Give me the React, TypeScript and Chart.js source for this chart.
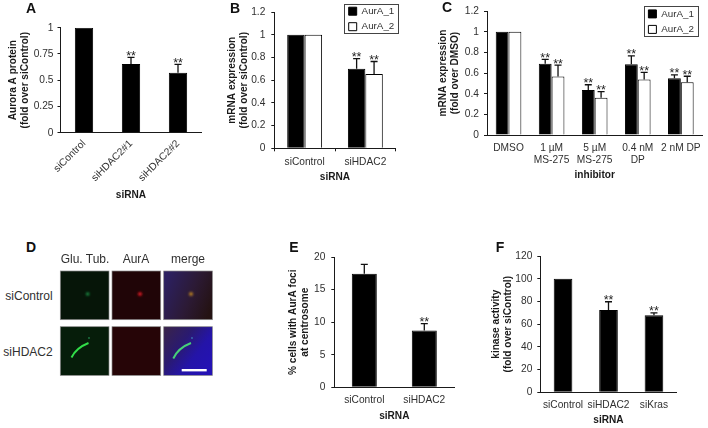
import React, { useEffect, useRef } from "react";
import { Chart, registerables } from "chart.js";

Chart.register(...registerables);

const FONT = '"Liberation Sans", Arial, sans-serif';
const INK = "#303030";

// ---- data ----
const catsA = ["siControl", "siHDAC2#1", "siHDAC2#2"];
const valsA = [1, 0.654, 0.571];
const errA = [null, 0.717, 0.65];
const starsA = [false, true, true];

const catsB = ["siControl", "siHDAC2"];
const aur1B = [1, 0.7];
const aur2B = [1, 0.655];
const err1B = [null, 0.79];
const err2B = [null, 0.765];
const stars1B = [false, true];
const stars2B = [false, true];

const catsC = ["DMSO", ["1 µM", "MS-275"], ["5 µM", "MS-275"], ["0.4 nM", "DP"], "2 nM DP"];
const aur1C = [1, 0.69, 0.437, 0.686, 0.55];
const aur2C = [1, 0.566, 0.36, 0.538, 0.51];
const err1C = [null, 0.733, 0.487, 0.767, 0.582];
const err2C = [null, 0.676, 0.42, 0.607, 0.569];
const stars1C = [false, true, true, true, true];
const stars2C = [false, true, true, true, true];

const catsE = ["siControl", "siHDAC2"];
const valsE = [17.45, 8.73];
const errE = [18.9, 9.78];
const starsE = [false, true];

const catsF = ["siControl", "siHDAC2", "siKras"];
const valsF = [100, 72.5, 68];
const errF = [null, 79.8, 70];
const starsF = [false, true, true];

const seriesNames = ["AurA_1", "AurA_2"];

type Panel = {
  rect: number[]; // canvas left, top, right, bottom
  plot: number[]; // plot left, top, right, bottom
  titleX: number; // centre of first y title line
  titleY: number; // centre of x title
  yTitle: string[];
  xTitle: string;
  yMax: number;
  yStep: number;
  cats: any[];
  series: { name: string; vals: number[]; err: (number | null)[]; stars: boolean[]; white: boolean }[];
  pct: number;
  rotate?: boolean;
  xTicks?: boolean;
  yPad: number;
  xPad: number;
  legend?: { box: number[]; swatch: number[] };
};

const panels: Panel[] = [
  {
    rect: [0, 0, 225, 215], plot: [60.5, 27.7, 201.5, 132.7], titleX: 13.3, titleY: 195.7,
    yTitle: ["Aurora A protein", "(fold over siControl)"], xTitle: "siRNA", yMax: 1, yStep: 0.25,
    cats: catsA, series: [{ name: "Aurora A", vals: valsA, err: errA, stars: starsA, white: false }],
    pct: 0.39, rotate: true, yPad: 4, xPad: 5,
  },
  {
    rect: [225, 0, 405, 200], plot: [274.3, 7.7, 395.7, 148.3], titleX: 232.7, titleY: 177,
    yTitle: ["mRNA expression", "(fold over siControl)"], xTitle: "siRNA", yMax: 1.2, yStep: 0.2,
    cats: catsB,
    series: [
      { name: seriesNames[0], vals: aur1B, err: err1B, stars: stars1B, white: false },
      { name: seriesNames[1], vals: aur2B, err: err2B, stars: stars2B, white: true },
    ],
    pct: 0.575, xTicks: true, yPad: 6, xPad: 5,
    legend: { box: [344.3, 4, 398.3, 33.3], swatch: [348, 11] },
  },
  {
    rect: [432, 0, 708, 200], plot: [487, 7.7, 704.5, 135], titleX: 443, titleY: 175,
    yTitle: ["mRNA expression", "(fold over DMSO)"], xTitle: "inhibitor", yMax: 1.2, yStep: 0.2,
    cats: catsC,
    series: [
      { name: seriesNames[0], vals: aur1C, err: err1C, stars: stars1C, white: false },
      { name: seriesNames[1], vals: aur2C, err: err2C, stars: stars2C, white: true },
    ],
    pct: 0.595, yPad: 5, xPad: 7,
    legend: { box: [643.7, 5.7, 697.3, 36], swatch: [647.7, 13.7] },
  },
  {
    rect: [280, 245, 470, 428], plot: [334.3, 253, 454.3, 387.3], titleX: 293.3, titleY: 416,
    yTitle: ["% cells with AurA foci", "at centrosome"], xTitle: "siRNA", yMax: 20, yStep: 5,
    cats: catsE, series: [{ name: "foci", vals: valsE, err: errE, stars: starsE, white: false }],
    pct: 0.417, yPad: 6, xPad: 7,
  },
  {
    rect: [485, 245, 708, 428], plot: [540.3, 250, 676.7, 392.3], titleX: 496, titleY: 420,
    yTitle: ["kinase activity", "(fold over siControl)"], xTitle: "siRNA", yMax: 120, yStep: 20,
    cats: catsF, series: [{ name: "kinase", vals: valsF, err: errF, stars: starsF, white: false }],
    pct: 0.41, yPad: 5, xPad: 7,
  },
];

const TITLE_LH = 11.8;
const LEGEND_SIZE = 9.8;

const whiskerPlugin = {
  id: "whiskers",
  afterLayout(chart: any) {
    const p: Panel = chart.options.plugins.whiskers.panel;
    if (!p.legend) return;
    const lg = chart.legend;
    const [sx, sy] = p.legend.swatch;
    const left = sx - p.rect[0] - 5;
    const top = sy - p.rect[1] - LEGEND_SIZE / 2 - 5.5;
    lg.left = left;
    lg.top = top;
    lg.right = left + 60;
    lg.bottom = top + 60;
  },
  afterDatasetsDraw(chart: any) {
    const p: Panel = chart.options.plugins.whiskers.panel;
    const { ctx, scales } = chart;
    ctx.save();
    ctx.strokeStyle = "#111";
    ctx.lineWidth = 1.3;
    ctx.fillStyle = "#222";
    ctx.font = `12.5px ${FONT}`;
    ctx.textAlign = "center";
    ctx.textBaseline = "alphabetic";
    p.series.forEach((s, i) => {
      const meta = chart.getDatasetMeta(i);
      s.vals.forEach((v, j) => {
        const e = s.err[j];
        if (e == null) return;
        const x = meta.data[j].x;
        const y0 = scales.y.getPixelForValue(v);
        const y1 = scales.y.getPixelForValue(e);
        ctx.beginPath();
        ctx.moveTo(x, y0);
        ctx.lineTo(x, y1);
        ctx.moveTo(x - 3.5, y1);
        ctx.lineTo(x + 3.5, y1);
        ctx.stroke();
        if (s.stars[j]) ctx.fillText("**", x, y1 + 2.5);
      });
    });
    ctx.restore();
  },
  afterDraw(chart: any) {
    const p: Panel = chart.options.plugins.whiskers.panel;
    if (!p.legend) return;
    const [l, t, r, b] = p.legend.box;
    const { ctx } = chart;
    ctx.save();
    ctx.strokeStyle = "#444";
    ctx.lineWidth = 1;
    ctx.strokeRect(Math.round(l - p.rect[0]) + 0.5, Math.round(t - p.rect[1]) + 0.5, Math.round(r - l), Math.round(b - t));
    ctx.restore();
  },
};

function PanelChart({ p }: { p: Panel }) {
  const ref = useRef<HTMLCanvasElement>(null);
  useEffect(() => {
    const [rl, rt, rr, rb] = p.rect;
    const [pl, pt, pr, pb] = p.plot;
    const yW = pl - (p.titleX - TITLE_LH / 2);
    const xH = p.titleY + TITLE_LH / 2 - pb;
    const tickFont = { family: FONT, size: 10.2 };
    const titleFont = { family: FONT, size: 10.1, weight: "bold" as const, lineHeight: TITLE_LH / 10.1 };
    const chart = new Chart(ref.current as HTMLCanvasElement, {
      type: "bar",
      data: {
        labels: p.cats,
        datasets: p.series.map((s) => ({
          label: s.name,
          data: s.vals,
          backgroundColor: s.white ? "#ffffff" : "#000000",
          borderColor: "#000000",
          borderWidth: 1,
          categoryPercentage: p.pct,
          barPercentage: 1,
        })),
      },
      plugins: [whiskerPlugin],
      options: {
        animation: false,
        responsive: false,
        events: [],
        layout: {
          padding: { left: pl - rl - yW, top: pt - rt, right: rr - pr, bottom: rb - pb - xH },
        },
        plugins: {
          tooltip: { enabled: false },
          whiskers: { panel: p },
          legend: {
            display: !!p.legend,
            position: "chartArea",
            align: "start",
            labels: {
              boxWidth: 8,
              boxHeight: 8,
              padding: 5.7,
              color: INK,
              font: { family: FONT, size: LEGEND_SIZE },
            },
          },
        } as any,
        scales: {
          x: {
            afterFit: (s: any) => { s.height = xH; },
            border: { color: "#1a1a1a", width: 1 },
            grid: {
              display: true,
              drawOnChartArea: false,
              drawTicks: !!p.xTicks,
              tickLength: 3,
              color: "#1a1a1a",
            },
            ticks: {
              color: INK,
              font: tickFont,
              padding: p.xPad,
              autoSkip: false,
              maxRotation: p.rotate ? 45 : 0,
              minRotation: p.rotate ? 45 : 0,
            },
            title: {
              display: true,
              text: p.xTitle,
              color: "#1a1a1a",
              font: titleFont,
              padding: 0,
            },
          },
          y: {
            min: 0,
            max: p.yMax,
            afterFit: (s: any) => { s.width = yW; },
            border: { color: "#1a1a1a", width: 1 },
            grid: { drawOnChartArea: false, tickLength: 3, color: "#1a1a1a" },
            ticks: {
              stepSize: p.yStep,
              color: INK,
              font: tickFont,
              padding: p.yPad,
              callback: (v: any) => String(Math.round(Number(v) * 100) / 100),
            },
            title: {
              display: true,
              text: p.yTitle,
              color: "#1a1a1a",
              font: titleFont,
              padding: 0,
            },
          },
        } as any,
      } as any,
    });
    return () => chart.destroy();
  }, [p]);
  const [rl, rt, rr, rb] = p.rect;
  return (
    <canvas
      ref={ref}
      width={rr - rl}
      height={rb - rt}
      style={{ position: "absolute", left: rl, top: rt, width: rr - rl, height: rb - rt, display: "block" }}
    />
  );
}

const letters: [string, number, number][] = [
  ["A", 31, 8], ["B", 235, 8], ["C", 447, 7], ["D", 31, 247], ["E", 294, 247], ["F", 500, 247],
];
const colHeads: [string, number][] = [["Glu. Tub.", 85], ["AurA", 136], ["merge", 188]];
const rowHeads: [string, number][] = [["siControl", 295.7], ["siHDAC2", 351.7]];

function Micrographs() {
  const cols = [60.3, 112, 163.7];
  const rows = [271, 326.7];
  const S = 48.7;
  const edge = { stroke: "#8c8c8c", strokeWidth: 0.7 };
  return (
    <svg width={708} height={428} style={{ position: "absolute", left: 0, top: 0 }}>
      <defs>
        <filter id="b1" x="-100%" y="-100%" width="300%" height="300%"><feGaussianBlur stdDeviation="0.9" /></filter>
        <filter id="b2" x="-50%" y="-50%" width="200%" height="200%"><feGaussianBlur stdDeviation="0.55" /></filter>
        <linearGradient id="m1" x1="0" y1="0.3" x2="1" y2="0.7">
          <stop offset="0" stopColor="#2c2060" />
          <stop offset="0.55" stopColor="#2c1a35" />
          <stop offset="1" stopColor="#241212" />
        </linearGradient>
        <linearGradient id="m2" x1="0" y1="0" x2="1" y2="0.75">
          <stop offset="0" stopColor="#3a2448" />
          <stop offset="0.4" stopColor="#2a1a70" />
          <stop offset="0.7" stopColor="#2414a8" />
          <stop offset="1" stopColor="#2412b4" />
        </linearGradient>
      </defs>
      <rect x={cols[0]} y={rows[0]} width={S} height={S} fill="#061508" {...edge} />
      <rect x={cols[1]} y={rows[0]} width={S} height={S} fill="#200507" {...edge} />
      <rect x={cols[2]} y={rows[0]} width={S} height={S} fill="url(#m1)" {...edge} />
      <rect x={cols[0]} y={rows[1]} width={S} height={S} fill="#061d0a" {...edge} />
      <rect x={cols[1]} y={rows[1]} width={S} height={S} fill="#260507" {...edge} />
      <rect x={cols[2]} y={rows[1]} width={S} height={S} fill="url(#m2)" {...edge} />
      <circle cx={87.7} cy={294} r={1.8} fill="#1f8c42" filter="url(#b1)" />
      <circle cx={140} cy={294} r={2.1} fill="#d01c22" filter="url(#b1)" />
      <circle cx={191} cy={294} r={2.1} fill="#b07a24" filter="url(#b1)" />
      <path d="M71.5 357.5 Q76 348 88.5 343" stroke="#30dc48" strokeWidth={1.9} fill="none" filter="url(#b2)" />
      <path d="M173.3 358.5 Q178 348 191 343" stroke="#46d078" strokeWidth={1.9} fill="none" filter="url(#b2)" />
      <circle cx={89} cy={338} r={0.9} fill="#1f7a44" filter="url(#b2)" />
      <circle cx={192} cy={338} r={0.9} fill="#3a70b0" filter="url(#b2)" />
      <rect x={181.7} y={369} width={25} height={2.4} fill="#ffffff" />
    </svg>
  );
}

const textStyle = { position: "absolute" as const, fontFamily: FONT, whiteSpace: "nowrap" as const, lineHeight: 1 };

export default function App() {
  useEffect(() => {
    document.body.style.margin = "0";
    document.body.style.background = "#fff";
  }, []);
  return (
    <div style={{ position: "absolute", left: 0, top: 0, width: 708, height: 428, overflow: "hidden", background: "#fff" }}>
      <Micrographs />
      {panels.map((p, i) => <PanelChart key={i} p={p} />)}
      {letters.map(([t, x, y]) => (
        <div key={t} style={{ ...textStyle, left: x, top: y, transform: "translate(-50%,-50%)", fontSize: 14, fontWeight: "bold", color: "#111" }}>{t}</div>
      ))}
      {colHeads.map(([t, x]) => (
        <div key={t} style={{ ...textStyle, left: x, top: 259.3, transform: "translate(-50%,-50%)", fontSize: 12, color: INK }}>{t}</div>
      ))}
      {rowHeads.map(([t, y]) => (
        <div key={t} style={{ ...textStyle, right: 708 - 52.7, top: y, transform: "translateY(-50%)", fontSize: 12, color: INK }}>{t}</div>
      ))}
    </div>
  );
}
